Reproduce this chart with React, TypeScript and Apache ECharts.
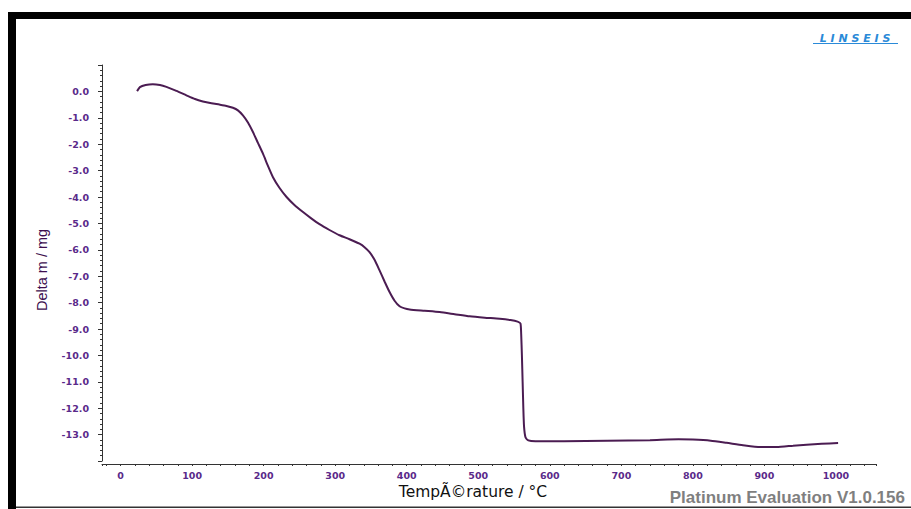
import React, { useEffect, useRef } from "react";
import * as echarts from "echarts";

const temperatures = [
  23, 27, 35, 45, 55, 64, 78, 92, 104, 115, 127, 138, 148, 157, 164, 171, 178,
  185, 192, 199, 206, 213, 222, 232, 243, 255, 266, 278, 292, 306, 320, 334,
  341, 348, 355, 362, 369, 376, 383, 390, 397, 404, 425, 446, 467, 488, 509,
  530, 545, 555, 559, 560, 561, 562, 563, 564, 566, 570, 580, 620, 680, 740,
  780, 800, 825, 847, 870, 894, 917, 940, 959, 980, 1003,
];
const massChange = [
  0.01, 0.16, 0.24, 0.27, 0.24, 0.17, 0.02, -0.15, -0.29, -0.38, -0.45, -0.5,
  -0.55, -0.62, -0.72, -0.91, -1.18, -1.54, -1.95, -2.36, -2.82, -3.25, -3.65,
  -4.0, -4.3, -4.57, -4.8, -5.03, -5.25, -5.45, -5.6, -5.77, -5.9, -6.09,
  -6.38, -6.78, -7.2, -7.6, -7.93, -8.14, -8.22, -8.26, -8.31, -8.36, -8.44,
  -8.52, -8.57, -8.61, -8.66, -8.72, -8.79, -9.2, -10.0, -11.0, -12.0, -12.7,
  -13.1, -13.22, -13.25, -13.25, -13.23, -13.21, -13.18, -13.19, -13.23,
  -13.31, -13.4, -13.47, -13.47, -13.42, -13.38, -13.35, -13.32,
];
const xAxisTitle = "TempÃ©rature / °C";
const yAxisTitle = "Delta m / mg";
const footerText = "Platinum Evaluation V1.0.156";
const logoText = "L I N S E I S";

export default function App() {
  const ref = useRef<HTMLDivElement>(null);
  useEffect(() => {
    if (!ref.current) return;
    const chart = echarts.init(ref.current, null, { renderer: "svg" });
    const data = temperatures.map((t, i) => [t, massChange[i]]);
    const labelColor = "#5a2a8a";
    const axisColor = "#333";
    chart.setOption({
      animation: false,
      backgroundColor: "#fff",
      grid: { left: 102, right: 35, top: 65, bottom: 48 },
      xAxis: {
        type: "value",
        min: -26,
        max: 1056,
        splitNumber: 10,
        axisLine: { onZero: false, lineStyle: { color: axisColor, width: 1 } },
        axisTick: { show: true, length: 2, lineStyle: { color: axisColor } },
        minorTick: { show: true, splitNumber: 5, length: 2, lineStyle: { color: axisColor } },
        splitLine: { show: false },
        offset: 3,
        axisLabel: {
          showMinLabel: false,
          showMaxLabel: false,
          color: labelColor,
          fontFamily: "DejaVu Sans",
          fontWeight: "bold",
          fontSize: 9.5,
          margin: 6,
          formatter: (v: number) => String(v),
        },
      },
      yAxis: {
        type: "value",
        min: -14,
        max: 1,
        interval: 1,
        axisLine: { show: true, onZero: false, lineStyle: { color: axisColor, width: 1 } },
        axisTick: { show: true, length: 4, lineStyle: { color: axisColor } },
        minorTick: { show: true, splitNumber: 5, length: 2, lineStyle: { color: axisColor } },
        splitLine: { show: false },
        name: yAxisTitle,
        nameLocation: "middle",
        nameGap: 53,
        nameTextStyle: {
          color: "#3d0f4f",
          fontFamily: "Liberation Sans",
          fontSize: 14.5,
          padding: [0, 0, 0, -14],
        },
        axisLabel: {
          showMinLabel: false,
          showMaxLabel: false,
          color: labelColor,
          fontFamily: "DejaVu Sans",
          fontWeight: "bold",
          fontSize: 9.5,
          margin: 13,
          formatter: (v: number) => v.toFixed(1),
        },
      },
      series: [
        {
          type: "line",
          data,
          showSymbol: false,
          symbol: "none",
          smooth: 0.2,
          lineStyle: { color: "#4b1c52", width: 2 },
        },
      ],
      graphic: [
        { type: "rect", shape: { x: 8, y: 12, width: 903, height: 7 }, style: { fill: "#000" }, silent: true },
        { type: "rect", shape: { x: 8, y: 12, width: 8, height: 497 }, style: { fill: "#000" }, silent: true },
        { type: "rect", shape: { x: 16, y: 506.5, width: 895, height: 1.5 }, style: { fill: "#333" }, silent: true },
        {
          type: "text",
          x: 473,
          y: 492,
          style: {
            text: xAxisTitle,
            fill: "#111",
            font: "500 15.5px 'DejaVu Sans'",
            textAlign: "center",
            textVerticalAlign: "middle",
          },
        },
        {
          type: "text",
          x: 905,
          y: 497,
          style: {
            text: footerText,
            fill: "#7f7f7f",
            font: "bold 17px 'Liberation Sans'",
            textAlign: "right",
            textVerticalAlign: "middle",
          },
        },
        {
          type: "text",
          x: 855,
          y: 38,
          style: {
            text: logoText,
            fill: "#2a8ad8",
            font: "italic bold 11px 'DejaVu Sans'",
            textAlign: "center",
            textVerticalAlign: "middle",
          },
        },
        {
          type: "rect",
          shape: { x: 813, y: 43, width: 85, height: 1 },
          style: { fill: "#2a8ad8" },
          silent: true,
        },
      ],
    });
    return () => chart.dispose();
  }, []);
  return (
    <div
      ref={ref}
      style={{ position: "fixed", left: 0, top: 0, width: 911, height: 509 }}
    />
  );
}
